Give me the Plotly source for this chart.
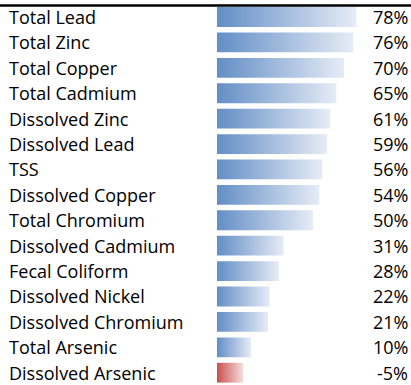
import plotly.graph_objects as go

# Pollutant removal by constituent
constituents = [
    "Total Lead", "Total Zinc", "Total Copper", "Total Cadmium",
    "Dissolved Zinc", "Dissolved Lead", "TSS", "Dissolved Copper",
    "Total Chromium", "Dissolved Cadmium", "Fecal Coliform",
    "Dissolved Nickel", "Dissolved Chromium", "Total Arsenic",
    "Dissolved Arsenic",
]
removal_pct = [78, 76, 70, 65, 61, 59, 56, 54, 50, 31, 28, 22, 21, 10, -5]

# data-bar styling: bars grow from a fixed floor so even small values show
BAR_FLOOR = -12
HALF_H = 0.39
POS_SCALE = [[0, "#638EC6"], [1, "#E6ECF6"]]
NEG_SCALE = [[0, "#C9504F"], [1, "#F6DEDE"]]
FONT = "'Open Sans', sans-serif"

fig = go.Figure()

for i, (name, v) in enumerate(zip(constituents, removal_pct)):
    end = abs(v)
    y0, y1 = i - HALF_H, i + HALF_H
    fig.add_trace(go.Scatter(
        x=[BAR_FLOOR, end, end, BAR_FLOOR, BAR_FLOOR],
        y=[y0, y0, y1, y1, y0],
        mode="none",
        fill="toself",
        fillgradient=dict(type="horizontal",
                          colorscale=POS_SCALE if v >= 0 else NEG_SCALE),
        hoverinfo="skip",
        showlegend=False,
    ))
    fig.add_annotation(
        x=0.02, xref="paper", y=i, yref="y", text=name,
        xanchor="left", yanchor="middle", showarrow=False, borderpad=0,
        font=dict(family=FONT, size=18, color="#000000"),
    )
    fig.add_annotation(
        x=0.995, xref="paper", y=i, yref="y", text=f"{v}%",
        xanchor="right", yanchor="middle", showarrow=False, borderpad=0,
        font=dict(family=FONT, size=18, color="#000000"),
    )

# header rule
fig.add_shape(type="line", xref="paper", yref="paper",
              x0=0, x1=1, y0=0.9857, y1=0.9857,
              line=dict(color="#000000", width=2.5))

fig.update_layout(
    width=411, height=385,
    margin=dict(l=0, r=0, t=0, b=0),
    paper_bgcolor="#FFFFFF", plot_bgcolor="#FFFFFF",
    xaxis=dict(range=[-152, 113.2], visible=False, fixedrange=True),
    yaxis=dict(range=[14.484, -0.669], visible=False, fixedrange=True),
)

fig.write_html("out.html")
